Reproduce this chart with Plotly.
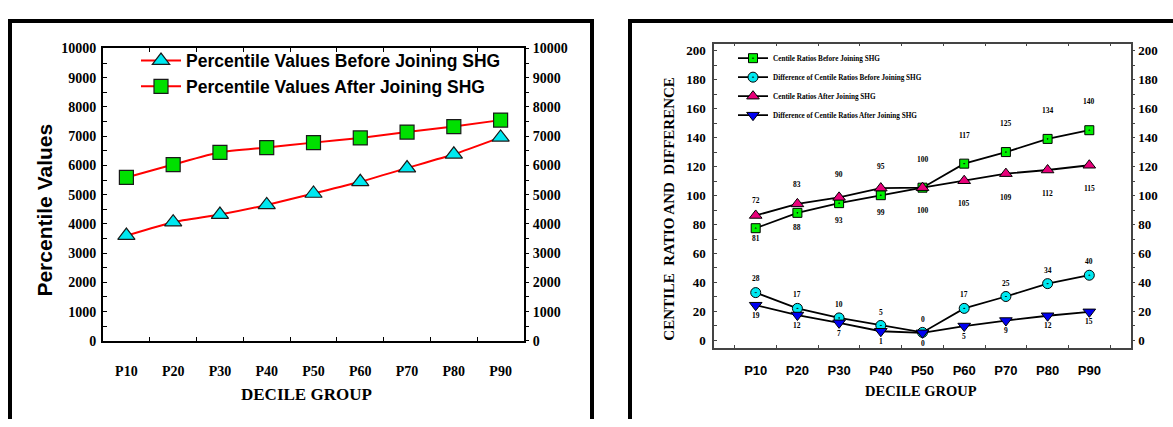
import plotly.graph_objects as go

W, H = 1173, 427

categories = ["P10", "P20", "P30", "P40", "P50", "P60", "P70", "P80", "P90"]

# Left panel: percentile values
before_vals = [3600, 4060, 4320, 4650, 5040, 5440, 5910, 6380, 6960]
after_vals = [5590, 6030, 6450, 6610, 6780, 6940, 7140, 7330, 7550]

# Right panel: centile ratios and differences (plotted positions + printed labels)
ratio_before = [77.5, 88.1, 94.8, 100.3, 105.5, 122.1, 130.1, 139.2, 145.2]
ratio_before_labels = [81, 88, 93, 99, 100, 117, 125, 134, 140]
diff_before = [33.0, 22.1, 15.5, 10.3, 5.5, 22.1, 30.3, 39.2, 45.0]
diff_before_labels = [28, 17, 10, 5, 0, 17, 25, 34, 40]
ratio_after = [86.3, 94.3, 98.8, 105.2, 105.5, 110.3, 115.2, 117.7, 121.0]
ratio_after_labels = [72, 83, 90, 95, 100, 105, 109, 112, 115]
diff_after = [24.3, 17.5, 12.1, 6.3, 5.2, 9.9, 13.7, 17.0, 19.7]
diff_after_labels = [19, 12, 7, 1, 0, 5, 9, 12, 15]

ratio_before_side = ["below"] * 5 + ["above"] * 4
ratio_after_side = ["above"] * 5 + ["below"] * 4


def fx(px):
    return px / W


def fy(py):
    return 1 - py / H


SERIF = "Liberation Serif"
SANS = "Liberation Sans"

fig = go.Figure()

# ---- left panel traces ----
fig.add_trace(go.Scatter(
    x=categories, y=before_vals, name="Percentile Values Before Joining SHG",
    mode="lines+markers", line=dict(color="#ff0000", width=2, shape="spline", smoothing=0.5),
    marker=dict(symbol="triangle-up", size=15, color="#00e8f0", line=dict(color="#1a1a1a", width=1.2)),
    xaxis="x", yaxis="y", legend="legend",
))
fig.add_trace(go.Scatter(
    x=categories, y=after_vals, name="Percentile Values After Joining SHG",
    mode="lines+markers", line=dict(color="#ff0000", width=2, shape="spline", smoothing=0.5),
    marker=dict(symbol="square", size=14, color="#00e000", line=dict(color="#1a1a1a", width=1.2)),
    xaxis="x", yaxis="y", legend="legend",
))
fig.add_trace(go.Scatter(
    x=categories, y=after_vals, mode="lines", line=dict(width=0), opacity=0,
    showlegend=False, hoverinfo="skip", xaxis="x", yaxis="y2",
))

# ---- right panel traces ----
right_series = [
    ("Centile Ratios Before Joining SHG", ratio_before, "square-dot", "#00f000", 9),
    ("Difference of Centile Ratios Before Joining SHG", diff_before, "circle-dot", "#00e8f0", 10),
    ("Centile Ratios After Joining SHG", ratio_after, "triangle-up", "#e8007a", 11),
    ("Difference of Centile Ratios After Joining SHG", diff_after, "triangle-down", "#0000f0", 11),
]
for i, (nm, vals, sym, col, sz) in enumerate(right_series):
    fig.add_trace(go.Scatter(
        x=categories, y=vals, name=nm, mode="lines+markers",
        line=dict(color="#000000", width=1.8),
        marker=dict(symbol=sym, size=sz, color=col, line=dict(color="#000000", width=1)),
        xaxis="x2", yaxis="y3", legend="legend2", legendgroup="g%d" % i,
    ))
fig.add_trace(go.Scatter(
    x=categories, y=ratio_before, mode="lines", line=dict(width=0), opacity=0,
    showlegend=False, hoverinfo="skip", xaxis="x2", yaxis="y4",
))

annotations = []
lab_font = dict(family=SERIF, size=7.5, color="black", weight="bold")


def add_labels(labels, sides, up_shift, down_shift):
    for c, v, s in zip(categories, labels, sides):
        annotations.append(dict(
            x=c, y=v, xref="x2", yref="y3", text=str(v), showarrow=False,
            xanchor="center", yanchor="middle",
            yshift=up_shift if s == "above" else down_shift, font=lab_font,
        ))


add_labels(ratio_before_labels, ratio_before_side, 36, -15)
add_labels(ratio_after_labels, ratio_after_side, 36, -15)
add_labels(diff_before_labels, ["above"] * 9, 21, -3)
add_labels(diff_after_labels, ["below"] * 9, 21, -3)

# titles
annotations += [
    dict(x=fx(45), y=fy(211), xref="paper", yref="paper", text="Percentile Values", textangle=-90,
         xanchor="center", yanchor="middle",
         showarrow=False, font=dict(family=SANS, size=21, color="black", weight="bold")),
    dict(x=fx(306), y=fy(402), xref="paper", yref="paper", text="DECILE GROUP",
         xanchor="center", yanchor="middle",
         showarrow=False, font=dict(family=SERIF, size=17, color="black", weight="bold")),
    dict(x=fx(669), y=fy(209), xref="paper", yref="paper",
         text="CENTILE\u00a0\u00a0RATIO AND\u00a0\u00a0DIFFERENCE", textangle=-90,
         xanchor="center", yanchor="middle",
         showarrow=False, font=dict(family=SERIF, size=15, color="black", weight="bold")),
    dict(x=fx(921), y=fy(398), xref="paper", yref="paper", text="DECILE GROUP",
         xanchor="center", yanchor="middle",
         showarrow=False, font=dict(family=SERIF, size=14.5, color="black", weight="bold")),
]

# panel borders (thick black frame, open at bottom)
shapes = []


def bar(x0, x1, y0, y1):
    shapes.append(dict(type="rect", xref="paper", yref="paper", x0=fx(x0), x1=fx(x1),
                       y0=fy(y1), y1=fy(y0), fillcolor="black", line=dict(width=0), layer="above"))


bar(8, 12, 12.5, 427)
bar(8, 594, 12.5, 16.5)
bar(590, 594, 12.5, 427)
bar(628, 632, 12.5, 427)
bar(628, 1173, 12.5, 16.5)

left_tick = dict(family=SERIF, size=14, color="black", weight="bold")
right_tick = dict(family=SERIF, size=13, color="black", weight="bold")

fig.update_layout(
    width=W, height=H, margin=dict(l=0, r=0, t=0, b=0),
    paper_bgcolor="white", plot_bgcolor="white",
    showlegend=True,
    xaxis=dict(domain=[fx(103), fx(524)], anchor="y", type="category", range=[-0.5, 8.5],
               tickson="boundaries", ticks="inside", ticklen=4, tickcolor="black",
               showline=True, linecolor="black", linewidth=2, mirror="ticks",
               showgrid=False, zeroline=False, tickfont=left_tick, ticklabelstandoff=16),
    yaxis=dict(domain=[fy(346), fy(43)], anchor="x", range=[0, 10000], dtick=1000, tickformat="d",
               ticks="inside", ticklen=4, tickcolor="black",
               minor=dict(dtick=500, ticks="inside", ticklen=4, tickcolor="black", showgrid=False),
               showline=True, linecolor="black", linewidth=2, showgrid=False, zeroline=False,
               tickfont=left_tick, ticklabelstandoff=2),
    yaxis2=dict(overlaying="y", side="right", anchor="x", range=[0, 10000], dtick=1000, tickformat="d",
                ticks="outside", ticklen=3, tickcolor="black",
                minor=dict(dtick=500, ticks="outside", ticklen=3, tickcolor="black", showgrid=False),
                showline=True, linecolor="black", linewidth=2, showgrid=False, zeroline=False,
                tickfont=left_tick, ticklabelstandoff=1),
    xaxis2=dict(domain=[fx(714), fx(1131)], anchor="y3", type="category", range=[-1, 9],
                tickson="boundaries", ticks="inside", ticklen=3, tickcolor="#444",
                showline=True, linecolor="#444", linewidth=1.5, mirror="ticks",
                showgrid=False, zeroline=False,
                tickfont=dict(family=SANS, size=13, color="black", weight="bold"),
                ticklabelstandoff=10),
    yaxis3=dict(domain=[fy(353), fy(38)], anchor="x2", range=[-5, 205], tick0=0, dtick=20,
                ticks="inside", ticklen=3, tickcolor="#444",
                minor=dict(tick0=0, dtick=10, ticks="inside", ticklen=3, tickcolor="#444", showgrid=False),
                showline=True, linecolor="#444", linewidth=1.5, showgrid=False, zeroline=False,
                tickfont=right_tick, ticklabelstandoff=4),
    yaxis4=dict(overlaying="y3", side="right", anchor="x2", range=[-5, 205], tick0=0, dtick=20,
                ticks="outside", ticklen=2, tickcolor="#444",
                minor=dict(tick0=0, dtick=10, ticks="outside", ticklen=2, tickcolor="#444", showgrid=False),
                showline=True, linecolor="#444", linewidth=1.5, showgrid=False, zeroline=False,
                tickfont=right_tick, ticklabelstandoff=1),
    legend=dict(x=fx(136), y=fy(37), xanchor="left", yanchor="top", bgcolor="rgba(0,0,0,0)",
                font=dict(family=SANS, size=17.5, color="black", weight="bold"),
                tracegroupgap=0, itemsizing="trace", itemwidth=40),
    legend2=dict(x=fx(733), y=fy(38), xanchor="left", yanchor="top", bgcolor="rgba(0,0,0,0)",
                 font=dict(family=SERIF, size=7.2, color="black", weight="bold"),
                 tracegroupgap=0, itemsizing="trace"),
    annotations=annotations, shapes=shapes,
)

fig.write_html("out.html")
